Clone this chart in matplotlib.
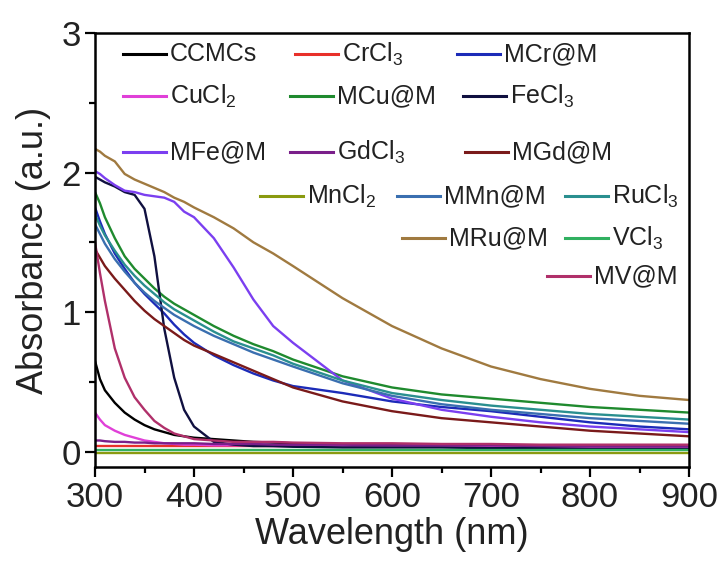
import numpy as np
import matplotlib
matplotlib.use("Agg")
import matplotlib.pyplot as plt
from matplotlib.ticker import MultipleLocator

plt.rcParams['font.family'] = ['Liberation Sans', 'DejaVu Sans']
plt.rcParams['mathtext.fontset'] = 'custom'
plt.rcParams['mathtext.rm'] = 'Liberation Sans'
plt.rcParams['mathtext.it'] = 'Liberation Sans:italic'

# wavelength grid (nm)
wavelength = [300, 305, 310, 320, 330, 340, 350, 360, 370, 380, 390, 400, 420,
              440, 460, 480, 500, 550, 600, 650, 700, 750, 800, 850, 900]

# absorbance values (a.u.)
ccmcs = [0.65, 0.52, 0.44, 0.35, 0.28, 0.23, 0.19, 0.16, 0.14, 0.12, 0.11, 0.10, 0.09,
         0.08, 0.07, 0.065, 0.06, 0.05, 0.045, 0.04, 0.04, 0.035, 0.035, 0.03, 0.03]
crcl3 = [0.04] * 25
mcr_m = [1.75, 1.65, 1.56, 1.42, 1.31, 1.21, 1.13, 1.06, 0.99, 0.91, 0.84, 0.78, 0.69,
         0.62, 0.56, 0.51, 0.47, 0.42, 0.36, 0.32, 0.29, 0.25, 0.21, 0.18, 0.16]
cucl2 = [0.28, 0.23, 0.19, 0.15, 0.12, 0.10, 0.08, 0.07, 0.06, 0.055, 0.05, 0.05, 0.045,
         0.045, 0.045, 0.04, 0.04, 0.04, 0.04, 0.035, 0.035, 0.035, 0.035, 0.035, 0.035]
mcu_m = [1.86, 1.78, 1.68, 1.53, 1.40, 1.31, 1.24, 1.17, 1.11, 1.06, 1.02, 0.98, 0.90,
         0.83, 0.77, 0.72, 0.66, 0.54, 0.46, 0.41, 0.38, 0.35, 0.32, 0.30, 0.28]
fecl3 = [1.97, 1.95, 1.93, 1.90, 1.86, 1.84, 1.74, 1.40, 0.88, 0.53, 0.30, 0.18, 0.07,
         0.05, 0.04, 0.04, 0.035, 0.03, 0.03, 0.03, 0.025, 0.025, 0.02, 0.02, 0.02]
mfe_m = [2.01, 1.99, 1.96, 1.91, 1.87, 1.86, 1.84, 1.83, 1.82, 1.79, 1.72, 1.68, 1.53,
         1.32, 1.09, 0.90, 0.78, 0.51, 0.38, 0.30, 0.25, 0.21, 0.18, 0.16, 0.14]
gdcl3 = [0.08, 0.08, 0.075, 0.07, 0.07, 0.065, 0.065, 0.06, 0.06, 0.06, 0.06, 0.06, 0.055,
         0.055, 0.055, 0.05, 0.05, 0.05, 0.045, 0.045, 0.045, 0.04, 0.04, 0.04, 0.04]
mgd_m = [1.45, 1.39, 1.33, 1.24, 1.16, 1.08, 1.01, 0.95, 0.90, 0.85, 0.80, 0.76, 0.70,
         0.64, 0.58, 0.52, 0.46, 0.36, 0.29, 0.24, 0.21, 0.18, 0.15, 0.13, 0.11]
mncl2 = [-0.01] * 25
mmn_m = [1.63, 1.56, 1.49, 1.38, 1.29, 1.21, 1.14, 1.08, 1.03, 0.98, 0.94, 0.90, 0.83,
         0.77, 0.71, 0.66, 0.61, 0.49, 0.40, 0.34, 0.30, 0.27, 0.24, 0.22, 0.20]
rucl3 = [1.70, 1.62, 1.55, 1.44, 1.34, 1.26, 1.19, 1.13, 1.07, 1.02, 0.98, 0.94, 0.86,
         0.79, 0.74, 0.69, 0.63, 0.51, 0.42, 0.37, 0.33, 0.30, 0.27, 0.25, 0.23]
mru_m = [2.17, 2.15, 2.12, 2.08, 1.99, 1.95, 1.92, 1.89, 1.86, 1.82, 1.79, 1.75, 1.68,
         1.60, 1.50, 1.42, 1.33, 1.10, 0.90, 0.74, 0.61, 0.52, 0.45, 0.40, 0.37]
vcl3 = [0.015] * 25
mv_m = [1.50, 1.28, 1.08, 0.74, 0.53, 0.39, 0.30, 0.22, 0.17, 0.13, 0.11, 0.09, 0.08,
        0.07, 0.07, 0.07, 0.065, 0.06, 0.06, 0.055, 0.055, 0.05, 0.05, 0.05, 0.05]

series = [
    ('CCMCs', ccmcs, '#000000'),
    ('CrCl$_3$', crcl3, '#e8302a'),
    ('MCr@M', mcr_m, '#1c2bb8'),
    ('CuCl$_2$', cucl2, '#e040d8'),
    ('MCu@M', mcu_m, '#1f8a2e'),
    ('FeCl$_3$', fecl3, '#101040'),
    ('MFe@M', mfe_m, '#7b3ff0'),
    ('GdCl$_3$', gdcl3, '#7a1f8a'),
    ('MGd@M', mgd_m, '#7a1a1a'),
    ('MnCl$_2$', mncl2, '#8a9a10'),
    ('MMn@M', mmn_m, '#3a6fb0'),
    ('RuCl$_3$', rucl3, '#2a8f8f'),
    ('MRu@M', mru_m, '#a07a40'),
    ('VCl$_3$', vcl3, '#30b060'),
    ('MV@M', mv_m, '#b0306a'),
]

# legend key positions in figure pixels (line start x, row y)
legend_pos = [(123, 54), (295, 54), (457, 54),
              (123, 96), (290, 96), (463, 96),
              (123, 152), (290, 152), (465, 152),
              (260, 196), (397, 196), (565, 196),
              (402, 238), (565, 238),
              (547, 276)]

W, H = 728, 563
fig = plt.figure(figsize=(W / 100, H / 100), dpi=100)
ax = fig.add_axes([95 / W, 1 - 467 / H, 594 / W, 434 / H])

for label, vals, color in series:
    ax.plot(wavelength, vals, color=color, lw=1.7)

ax.set_xlim(300, 900)
ax.set_ylim(-0.11, 3)
ax.xaxis.set_major_locator(MultipleLocator(100))
ax.xaxis.set_minor_locator(MultipleLocator(50))
ax.yaxis.set_major_locator(MultipleLocator(1))
ax.yaxis.set_minor_locator(MultipleLocator(0.5))
ax.tick_params(which='major', direction='out', length=7, width=1.6, labelsize=25, pad=3,
               labelcolor='#222222')
ax.tick_params(which='minor', direction='out', length=4, width=1.6)
for sp in ax.spines.values():
    sp.set_linewidth(1.8)

ax.set_xlabel('Wavelength (nm)', fontsize=26, labelpad=2, color='#222222')
ax.set_ylabel('Absorbance (a.u.)', fontsize=26, labelpad=8, color='#222222')

# legend drawn as keys + labels
for (label, vals, color), (px, py) in zip(series, legend_pos):
    fx0 = (px - 95) / 594
    fx1 = (px + 43 - 95) / 594
    fy = (467 - py) / 434
    ax.plot([fx0, fx1], [fy, fy], color=color, lw=2.2, transform=ax.transAxes, clip_on=False)
    ax.text(fx1 + 4 / 594, fy, label, transform=ax.transAxes, fontsize=18,
            va='center', ha='left', color='#222222')

fig.savefig('out.png', dpi=100)
